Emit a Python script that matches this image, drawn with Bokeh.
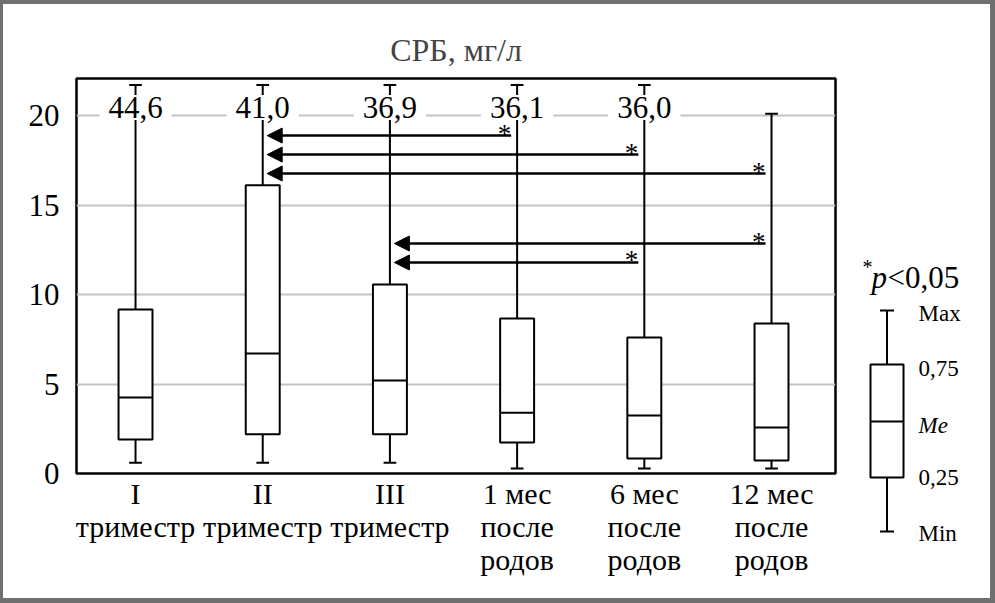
import numpy as np
from bokeh.plotting import figure
from bokeh.layouts import row, column
from bokeh.models import (ColumnDataSource, Range1d, FixedTicker, Arrow, NormalHead)
from bokeh.core.properties import value
from bokeh.embed import file_html
from bokeh.resources import INLINE

# ---------------- data ----------------
categories = ["I\nтриместр", "II\nтриместр", "III\nтриместр",
              "1 мес\nпосле\nродов", "6 мес\nпосле\nродов", "12 мес\nпосле\nродов"]
q_min = [0.6, 0.6, 0.6, 0.28, 0.28, 0.28]
q1 = [1.9, 2.2, 2.2, 1.73, 0.84, 0.73]
median = [4.25, 6.7, 5.2, 3.4, 3.24, 2.57]
q3 = [9.16, 16.1, 10.56, 8.66, 7.6, 8.38]
q_max = [44.6, 41.0, 36.9, 36.1, 36.0, 20.1]
y_ticks = [0, 5, 10, 15, 20]
# significant differences (*p<0,05): from group -> to group, drawn at level
sig_from = [3, 4, 5, 5, 4]
sig_to = [1, 1, 1, 2, 2]
sig_level = [18.88, 17.82, 16.76, 12.85, 11.79]

title_text = "СРБ, мг/л"
legend_labels = ["Max", "0,75", "Me", "0,25", "Min"]

# ---------------- layout ----------------
FONT = "Liberation Serif"
FS = "31px"
FL, FT, FW, FH = 76, 78, 759, 395          # frame position/size in canvas px
CW, CH = 995, 603
MAIN_RIGHT = 10
XR = (-0.464, 5.503)
YR = (0.0, 22.07)
CAP_SHOWN = 21.7                            # where whiskers beyond the axis are capped
BOX_W = 0.267
CAP_W = 0.10

p = figure(frame_width=FW, frame_height=FH, min_border_left=FL, min_border_top=FT,
           min_border_right=MAIN_RIGHT, min_border_bottom=CH - FT - FH,
           x_range=Range1d(*XR), y_range=Range1d(*YR),
           output_backend="svg", toolbar_location=None, title=title_text)

p.background_fill_color = "white"
p.border_fill_color = None
p.outline_line_color = "black"
p.outline_line_width = 2.5

p.title.text_font = FONT
p.title.text_font_size = "32px"
p.title.text_font_style = "normal"
p.title.align = "center"
p.title.standoff = 21
p.title.text_line_height = 0.8

# axes
p.xaxis.ticker = FixedTicker(ticks=list(range(len(categories))))
p.xaxis.major_label_overrides = {i: c for i, c in enumerate(categories)}
p.yaxis.ticker = FixedTicker(ticks=y_ticks)
for ax in (p.xaxis, p.yaxis):
    ax.axis_line_color = None
    ax.major_tick_line_color = None
    ax.minor_tick_line_color = None
    ax.major_tick_out = 0
    ax.major_tick_in = 0
    ax.major_label_text_font = FONT
    ax.major_label_text_font_size = FS
    ax.major_label_text_color = "black"
p.xaxis.major_label_text_font_size = "30px"
p.xaxis.major_label_standoff = 3
p.xaxis.major_label_text_line_height = 1.0
p.yaxis.major_label_standoff = 17

p.xgrid.visible = False
p.ygrid.ticker = FixedTicker(ticks=[t for t in y_ticks if t > 0])
p.ygrid.grid_line_color = "#c4c4c4"
p.ygrid.grid_line_width = 2

# ---------------- boxes ----------------
xs = np.arange(len(categories), dtype=float)
shown_max = np.minimum(np.array(q_max), CAP_SHOWN)
src = ColumnDataSource(dict(x=xs, q_min=q_min, q1=q1, med=median, q3=q3, top=shown_max,
                            xl=xs - BOX_W / 2, xr=xs + BOX_W / 2,
                            cl=xs - CAP_W / 2, cr=xs + CAP_W / 2))

p.segment(x0="x", y0="q3", x1="x", y1="top", source=src, line_color="black", line_width=2)
p.segment(x0="x", y0="q1", x1="x", y1="q_min", source=src, line_color="black", line_width=2)
p.segment(x0="cl", y0="top", x1="cr", y1="top", source=src, line_color="black", line_width=2)
p.segment(x0="cl", y0="q_min", x1="cr", y1="q_min", source=src, line_color="black", line_width=2)
p.quad(left="xl", right="xr", bottom="q1", top="q3", source=src,
       fill_color="white", line_color="black", line_width=2)
p.segment(x0="xl", y0="med", x1="xr", y1="med", source=src, line_color="black", line_width=2)

# labels of maxima lying beyond the axis
over = [i for i, v in enumerate(q_max) if v > YR[1]]
lab_src = ColumnDataSource(dict(x=[xs[i] for i in over], y=[20] * len(over),
                                t=[f"{q_max[i]:.1f}".replace(".", ",") for i in over]))
p.text(x="x", y="y", text="t", source=lab_src, text_font=value(FONT), text_font_size=FS,
       text_align="center", text_baseline="middle", y_offset=-8, text_color="black",
       background_fill_color="white", padding=(9, 2))

# ---------------- significance arrows ----------------
arr_src = ColumnDataSource(dict(x0=[f - 0.047 for f in sig_from], x1=[t + 0.035 for t in sig_to],
                                y=sig_level))
p.add_layout(Arrow(end=NormalHead(size=15, fill_color="black", line_color="black", line_width=1),
                   x_start="x0", y_start="y", x_end="x1", y_end="y", source=arr_src,
                   line_color="black", line_width=2.5))
star_src = ColumnDataSource(dict(x=[f - 0.1 for f in sig_from], y=sig_level,
                                 t=["*"] * len(sig_from)))
p.text(x="x", y="y", text="t", source=star_src, text_font=value(FONT), text_font_size="27px",
       text_align="center", text_baseline="middle", y_offset=-2, text_color="black")

# ---------------- legend figure (canvas-pixel coordinates) ----------------
LW = CW - (FL + FW + MAIN_RIGHT)
x0_img = FL + FW + MAIN_RIGHT
leg = figure(width=LW, height=CH, x_range=Range1d(x0_img, x0_img + LW), y_range=Range1d(CH, 0),
             output_backend="svg", toolbar_location=None, min_border=0,
             x_axis_location=None, y_axis_location=None)
leg.grid.visible = False
leg.outline_line_color = None
leg.background_fill_color = None
leg.border_fill_color = None

cx = 886.5
leg.segment(x0=[cx, cx], y0=[364, 477], x1=[cx, cx], y1=[310, 531], line_color="black", line_width=2)
leg.segment(x0=[cx - 7, cx - 7], y0=[310, 531], x1=[cx + 7, cx + 7], y1=[310, 531],
            line_color="black", line_width=2)
leg.quad(left=[870], right=[903], top=[364], bottom=[477], fill_color="white",
         line_color="black", line_width=2)
leg.segment(x0=[870], y0=[421], x1=[903], y1=[421], line_color="black", line_width=2)
leg_y = [313, 368, 425, 477, 533]
leg.text(x=[918] * 5, y=leg_y, text=legend_labels, text_font=value(FONT), text_font_size="23px",
         text_align="left", text_baseline="middle", text_color="black",
         text_font_style=["italic" if t == "Me" else "normal" for t in legend_labels])
leg.text(x=[862], y=[266], text=["*"], text_font=value(FONT), text_font_size="20px",
         text_align="left", text_baseline="middle", text_color="black")
leg.text(x=[871], y=[277], text=["p"], text_font=value(FONT), text_font_size=FS,
         text_align="left", text_baseline="alphabetic", text_color="black", text_font_style="italic")
leg.text(x=[887], y=[277], text=["<0,05"], text_font=value(FONT), text_font_size=FS,
         text_align="left", text_baseline="alphabetic", text_color="black")

GRAY = "#707070"
layout = row(p, column(leg), spacing=0,
             styles={"box-shadow": f"inset 3px 0 0 0 {GRAY}, inset 0 4px 0 0 {GRAY}, "
                                   f"inset -5px 0 0 0 {GRAY}, inset 0 -5px 0 0 {GRAY}"})

open("out.html", "w").write(file_html(layout, INLINE))
